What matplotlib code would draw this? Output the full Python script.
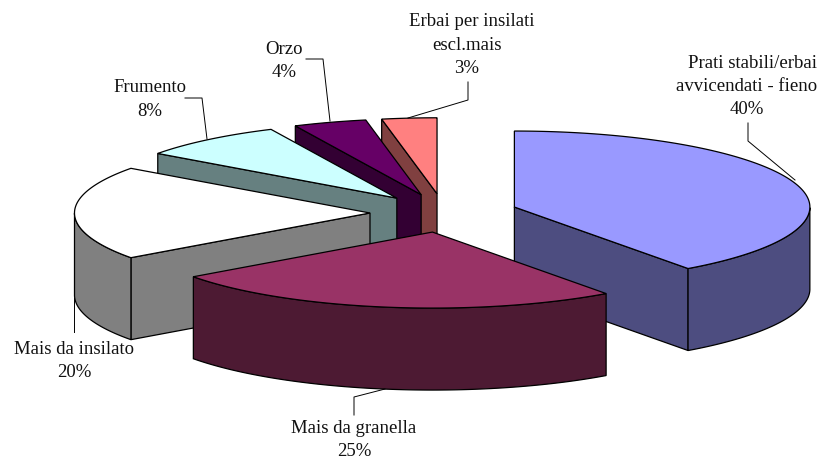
import matplotlib
matplotlib.use('Agg')
import matplotlib.pyplot as plt
import numpy as np

plt.rcParams['font.family'] = ['Liberation Serif', 'DejaVu Serif']

# chart data
names = ['Prati stabili/erbai\navvicendati - fieno', 'Mais da granella', 'Mais da insilato',
         'Frumento', 'Orzo', 'Erbai per insilati\nescl.mais']
values = [40, 25, 20, 8, 4, 3]

top_cols = ['#9999FF', '#993366', '#FFFFFF', '#CCFFFF', '#660066', '#FF8080']
side_cols = ['#4D4D80', '#4D1A33', '#808080', '#668080', '#330033', '#804040']

# pie geometry, in pixels
cx, cy = 444, 213
rx, ry = 295.5, 76
ex, ey = 74, 19.3
depth = 82

# where the labels sit (centre x, centre y of the first line) and their leader lines
label_pos = [(747, 63), (354, 428), (74, 349), (150, 88), (284, 49), (467, 22)]
leaders = [
    ([748, 748, 795], [123, 141, 180]),
    ([354, 354, 385], [415, 397, 389]),
    ([74, 74], [332, 298]),
    ([185, 202, 207], [98, 98, 139]),
    ([306, 323, 330], [59, 59, 121]),
    ([468, 468, 408], [82, 100, 118]),
]
line_h = 23.3


def pt(x0, y0, a):
    a = np.radians(a)
    return x0 + rx * np.cos(a), y0 - ry * np.sin(a)


def draw_slice(i, a1, a2):
    mid = np.radians((a1 + a2) / 2)
    x0 = cx + ex * np.cos(mid)
    y0 = cy - ey * np.sin(mid)

    # radial walls, only those turned to the viewer
    for a, normal in ((a1, a1 + 90), (a2, a2 - 90)):
        if np.sin(np.radians(normal)) < -1e-6:
            x, y = pt(x0, y0, a)
            ax.fill([x0, x, x, x0], [y0, y, y + depth, y0 + depth],
                    fc=side_cols[i], ec='black', lw=0.9, joinstyle='miter')

    # outer wall, the part of the rim on the front half
    t = np.linspace(a1, a2, 200)
    t = t[np.sin(np.radians(t)) <= 0]
    if len(t) > 1:
        x, y = pt(x0, y0, t)
        ax.fill(np.r_[x, x[::-1]], np.r_[y, y[::-1] + depth],
                fc=side_cols[i], ec='black', lw=0.9, joinstyle='miter')

    # top face
    t = np.linspace(a1, a2, 200)
    x, y = pt(x0, y0, t)
    ax.fill(np.r_[x0, x], np.r_[y0, y], fc=top_cols[i], ec='black', lw=0.9, joinstyle='miter')


fig = plt.figure(figsize=(8.21, 4.61), dpi=100)
ax = fig.add_axes([0, 0, 1, 1])
ax.set_xlim(0, 821)
ax.set_ylim(461, 0)
ax.axis('off')

edges = 90 - np.cumsum([0] + values) * 3.6

# back slices first, the big front ones last
for i in [5, 4, 3, 2, 0, 1]:
    draw_slice(i, edges[i], edges[i + 1])

for lx, ly in leaders:
    ax.plot(lx, ly, color='black', lw=0.7)

for name, val, (x, y) in zip(names, values, label_pos):
    lines = name.split('\n') + ['%d%%' % val]
    for k, line in enumerate(lines):
        # first line of the wrapped labels sits a little to the right
        nudge = 5 if len(lines) == 3 and k == 0 else 0
        ax.text(x + nudge, y + k * line_h, line, ha='center', va='center', fontsize=13.5, color='#111111')

plt.savefig('out.png', dpi=100)
